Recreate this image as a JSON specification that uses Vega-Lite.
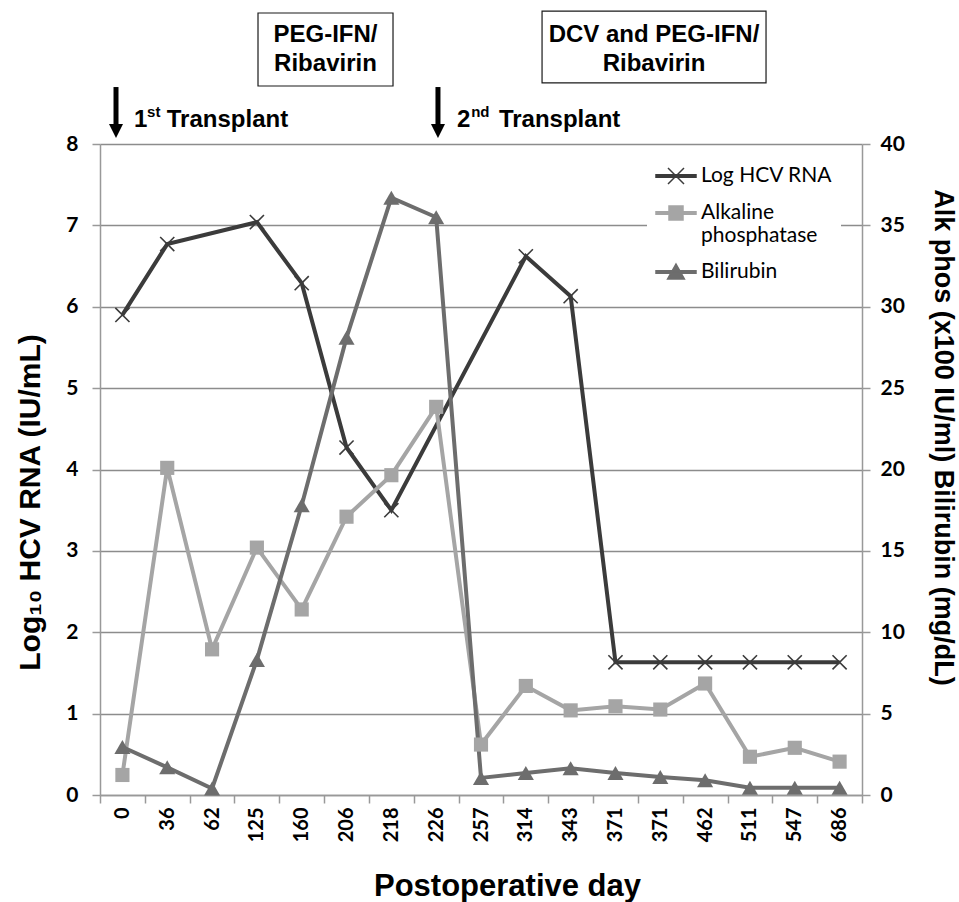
{
  "$schema": "https://vega.github.io/schema/vega-lite/v6.json",
  "width": 762,
  "height": 651,
  "autosize": {"type": "none"},
  "padding": {"left": 100, "top": 144, "right": 97, "bottom": 107},
  "background": "white",
  "config": {"view": {"stroke": null}, "font": "Liberation Sans"},
  "datasets": {
    "obs": [
      {"day": "0", "series": "Log HCV RNA", "value": 5.90},
      {"day": "36", "series": "Log HCV RNA", "value": 6.77},
      {"day": "125", "series": "Log HCV RNA", "value": 7.04},
      {"day": "160", "series": "Log HCV RNA", "value": 6.29},
      {"day": "206", "series": "Log HCV RNA", "value": 4.27},
      {"day": "218", "series": "Log HCV RNA", "value": 3.50},
      {"day": "314", "series": "Log HCV RNA", "value": 6.62},
      {"day": "343", "series": "Log HCV RNA", "value": 6.13},
      {"day": "371", "series": "Log HCV RNA", "value": 1.63},
      {"day": "371 (2)", "series": "Log HCV RNA", "value": 1.63},
      {"day": "462", "series": "Log HCV RNA", "value": 1.63},
      {"day": "511", "series": "Log HCV RNA", "value": 1.63},
      {"day": "547", "series": "Log HCV RNA", "value": 1.63},
      {"day": "686", "series": "Log HCV RNA", "value": 1.63},
      {"day": "0", "series": "Alkaline phosphatase", "value": 1.23},
      {"day": "36", "series": "Alkaline phosphatase", "value": 20.1},
      {"day": "62", "series": "Alkaline phosphatase", "value": 8.95},
      {"day": "125", "series": "Alkaline phosphatase", "value": 15.2},
      {"day": "160", "series": "Alkaline phosphatase", "value": 11.4},
      {"day": "206", "series": "Alkaline phosphatase", "value": 17.1},
      {"day": "218", "series": "Alkaline phosphatase", "value": 19.65},
      {"day": "226", "series": "Alkaline phosphatase", "value": 23.85},
      {"day": "257", "series": "Alkaline phosphatase", "value": 3.1},
      {"day": "314", "series": "Alkaline phosphatase", "value": 6.7},
      {"day": "343", "series": "Alkaline phosphatase", "value": 5.2},
      {"day": "371", "series": "Alkaline phosphatase", "value": 5.45},
      {"day": "371 (2)", "series": "Alkaline phosphatase", "value": 5.25},
      {"day": "462", "series": "Alkaline phosphatase", "value": 6.85},
      {"day": "511", "series": "Alkaline phosphatase", "value": 2.35},
      {"day": "547", "series": "Alkaline phosphatase", "value": 2.9},
      {"day": "686", "series": "Alkaline phosphatase", "value": 2.05},
      {"day": "0", "series": "Bilirubin", "value": 2.95},
      {"day": "36", "series": "Bilirubin", "value": 1.7},
      {"day": "62", "series": "Bilirubin", "value": 0.4},
      {"day": "125", "series": "Bilirubin", "value": 8.3},
      {"day": "160", "series": "Bilirubin", "value": 17.8},
      {"day": "206", "series": "Bilirubin", "value": 28.1},
      {"day": "218", "series": "Bilirubin", "value": 36.7},
      {"day": "226", "series": "Bilirubin", "value": 35.5},
      {"day": "257", "series": "Bilirubin", "value": 1.05},
      {"day": "314", "series": "Bilirubin", "value": 1.35},
      {"day": "343", "series": "Bilirubin", "value": 1.65},
      {"day": "371", "series": "Bilirubin", "value": 1.35},
      {"day": "371 (2)", "series": "Bilirubin", "value": 1.1},
      {"day": "462", "series": "Bilirubin", "value": 0.9},
      {"day": "511", "series": "Bilirubin", "value": 0.45},
      {"day": "547", "series": "Bilirubin", "value": 0.45},
      {"day": "686", "series": "Bilirubin", "value": 0.45}
    ],
    "boxes": [
      {"x1": 3.525, "x2": 6.537, "y1": 8.713, "y2": 9.61},
      {"x1": 9.862, "x2": 14.859, "y1": 8.75, "y2": 9.634}
    ],
    "boxlabels": [
      {"x": 5.03, "y": 9.253, "label": ["PEG-IFN/", "Ribavirin"]},
      {"x": 12.36, "y": 9.253, "label": ["DCV and PEG-IFN/", "Ribavirin"]}
    ],
    "arrows": [
      {"x": 0.357, "top": 8.70, "base": 8.22, "head": 8.16},
      {"x": 7.54, "top": 8.70, "base": 8.22, "head": 8.16}
    ],
    "events": [
      {"x": 0.76, "y": 8.21, "t": "1"},
      {"x": 1.49, "y": 8.21, "t": "Transplant"},
      {"x": 7.965, "y": 8.21, "t": "2"},
      {"x": 8.90, "y": 8.21, "t": "Transplant"}
    ],
    "sups": [
      {"x": 1.05, "y": 8.33, "t": "st"},
      {"x": 8.28, "y": 8.33, "t": "nd"}
    ]
  },
  "layer": [
    {
      "data": {"name": "obs"},
      "transform": [{"filter": "datum.series === 'Log HCV RNA'"}],
      "encoding": {
        "x": {
          "field": "day", "type": "ordinal", "bandPosition": 0.5,
          "scale": {"type": "band", "domain": ["0","36","62","125","160","206","218","226","257","314","343","371","371 (2)","462","511","547","686"], "paddingInner": 0, "paddingOuter": 0},
          "axis": {
            "title": "Postoperative day", "orient": "bottom",
            "labelExpr": "split(datum.label, ' ')[0]",
            "labelAngle": -90, "labelAlign": "right", "labelBaseline": "middle",
            "labelFont": "Lato", "labelFontWeight": "bold", "labelFontSize": 20, "labelColor": "#000000", "labelPadding": 4,
            "tickBand": "extent", "tickSize": 8, "tickColor": "#999999", "tickWidth": 1.5,
            "domainColor": "#999999", "domainWidth": 1.5, "grid": false,
            "titleFont": "Liberation Sans", "titleFontSize": 31, "titleFontWeight": "bold", "titleColor": "#000000",
            "titleX": 407, "titleY": 100, "titleAlign": "center", "titleBaseline": "alphabetic"
          }
        },
        "y": {
          "field": "value", "type": "quantitative",
          "scale": {"domain": [0, 8], "nice": false},
          "axis": {
            "title": "Log₁₀ HCV RNA (IU/mL)", "orient": "left", "values": [0,1,2,3,4,5,6,7,8],
            "grid": true, "gridColor": "#8c8c8c", "gridWidth": 1.5,
            "domainColor": "#999999", "domainWidth": 1.5, "tickColor": "#999999", "tickWidth": 1.5, "tickSize": 8,
            "labelFont": "Lato", "labelFontWeight": "bold", "labelFontSize": 21, "labelColor": "#000000", "labelPadding": 14,
            "titleFont": "Liberation Sans", "titleFontWeight": "bold", "titleFontSize": 30, "titleColor": "#000000",
            "titleAngle": -90, "titleX": -70, "titleY": 358, "titleAlign": "center", "titleBaseline": "middle"
          }
        }
      },
      "layer": [
        {
          "mark": {"type": "line", "strokeWidth": 4},
          "encoding": {
            "color": {
              "field": "series", "type": "nominal",
              "scale": {"domain": ["Log HCV RNA", "Alkaline phosphatase", "Bilirubin"], "range": ["#3b3b3b", "#a5a5a5", "#6d6d6d"]},
              "legend": {
                "title": null, "orient": "none", "legendX": 547, "legendY": 3, "padding": 8, "fillColor": "white",
                "labelFont": "Lato", "labelFontSize": 21, "labelColor": "#000000", "labelOffset": 4,
                "symbolSize": 1600, "symbolStrokeWidth": 1.5, "rowPadding": 5,
                "labelExpr": "datum.label == 'Alkaline phosphatase' ? ['Alkaline', 'phosphatase'] : datum.label",
                "encode": {
                  "symbols": {
                    "update": {
                      "shape": {"signal": "datum.value === 'Log HCV RNA' ? 'M-1,-0.06H1V0.06H-1Z M-0.4,-0.4L0.4,0.4M-0.4,0.4L0.4,-0.4' : datum.value === 'Alkaline phosphatase' ? 'M-1,-0.06H1V0.06H-1Z M-0.35,-0.35H0.35V0.35H-0.35Z' : 'M-1,-0.06H1V0.06H-1Z M0,-0.4L0.42,0.35H-0.42Z'"},
                      "fill": {"signal": "scale('color', datum.value)"},
                      "stroke": {"signal": "scale('color', datum.value)"},
                      "opacity": {"value": 1}
                    }
                  }
                }
              }
            }
          }
        },
        {
          "mark": {"type": "point", "shape": "M-1,-1L1,1M-1,1L1,-1", "filled": false, "size": 200, "strokeWidth": 1.6, "color": "#3b3b3b", "opacity": 1}
        }
      ]
    },
    {
      "data": {"name": "obs"},
      "transform": [{"filter": "datum.series !== 'Log HCV RNA'"}],
      "encoding": {
        "x": {
          "field": "day", "type": "ordinal", "bandPosition": 0.5,
          "scale": {"type": "band", "domain": ["0","36","62","125","160","206","218","226","257","314","343","371","371 (2)","462","511","547","686"], "paddingInner": 0, "paddingOuter": 0},
          "axis": null
        },
        "y": {
          "field": "value", "type": "quantitative",
          "scale": {"domain": [0, 40], "nice": false},
          "axis": {
            "title": "Alk phos (x100 IU/ml)  Bilirubin (mg/dL)", "orient": "right", "values": [0,5,10,15,20,25,30,35,40],
            "grid": false,
            "domainColor": "#999999", "domainWidth": 1.5, "tickColor": "#999999", "tickWidth": 1.5, "tickSize": 8,
            "labelFont": "Lato", "labelFontWeight": "bold", "labelFontSize": 21, "labelColor": "#000000", "labelPadding": 10,
            "titleFont": "Liberation Sans", "titleFontWeight": "bold", "titleFontSize": 27, "titleColor": "#000000",
            "titleAngle": 90, "titleX": 80, "titleY": 293, "titleAlign": "center", "titleBaseline": "middle"
          }
        }
      },
      "layer": [
        {
          "mark": {"type": "line", "strokeWidth": 4},
          "encoding": {
            "color": {
              "field": "series", "type": "nominal",
              "scale": {"domain": ["Log HCV RNA", "Alkaline phosphatase", "Bilirubin"], "range": ["#3b3b3b", "#a5a5a5", "#6d6d6d"]}
            }
          }
        },
        {
          "transform": [{"filter": "datum.series === 'Alkaline phosphatase'"}],
          "mark": {"type": "point", "shape": "square", "filled": true, "size": 200, "color": "#a5a5a5", "opacity": 1}
        },
        {
          "transform": [{"filter": "datum.series === 'Bilirubin'"}],
          "mark": {"type": "point", "shape": "triangle-up", "filled": true, "size": 260, "color": "#6d6d6d", "opacity": 1}
        }
      ]
    },
    {
      "layer": [
        {
          "data": {"name": "boxes"},
          "mark": {"type": "rect", "fill": "white", "stroke": "#1a1a1a", "strokeWidth": 1.2},
          "encoding": {
            "x": {"field": "x1", "type": "quantitative", "scale": {"domain": [0, 17], "nice": false, "zero": false}, "axis": null},
            "x2": {"field": "x2"},
            "y": {"field": "y1", "type": "quantitative", "scale": {"domain": [0, 8], "nice": false, "zero": false}, "axis": null},
            "y2": {"field": "y2"}
          }
        },
        {
          "data": {"name": "boxlabels"},
          "mark": {"type": "text", "align": "center", "baseline": "alphabetic", "fontSize": 24, "fontWeight": "bold", "font": "Liberation Sans", "lineHeight": 29, "color": "#000000"},
          "encoding": {
            "x": {"field": "x", "type": "quantitative", "scale": {"domain": [0, 17], "nice": false, "zero": false}, "axis": null},
            "y": {"field": "y", "type": "quantitative", "scale": {"domain": [0, 8], "nice": false, "zero": false}, "axis": null},
            "text": {"field": "label"}
          }
        },
        {
          "data": {"name": "arrows"},
          "mark": {"type": "rule", "strokeWidth": 5, "color": "#000000"},
          "encoding": {
            "x": {"field": "x", "type": "quantitative", "scale": {"domain": [0, 17], "nice": false, "zero": false}, "axis": null},
            "y": {"field": "top", "type": "quantitative", "scale": {"domain": [0, 8], "nice": false, "zero": false}, "axis": null},
            "y2": {"field": "base"}
          }
        },
        {
          "data": {"name": "arrows"},
          "mark": {"type": "point", "shape": "M-1,-1H1L0,1Z", "filled": true, "size": 196, "color": "#000000", "opacity": 1},
          "encoding": {
            "x": {"field": "x", "type": "quantitative", "scale": {"domain": [0, 17], "nice": false, "zero": false}, "axis": null},
            "y": {"field": "head", "type": "quantitative", "scale": {"domain": [0, 8], "nice": false, "zero": false}, "axis": null}
          }
        },
        {
          "data": {"name": "events"},
          "mark": {"type": "text", "align": "left", "baseline": "alphabetic", "fontSize": 24, "fontWeight": "bold", "font": "Liberation Sans", "color": "#000000"},
          "encoding": {
            "x": {"field": "x", "type": "quantitative", "scale": {"domain": [0, 17], "nice": false, "zero": false}, "axis": null},
            "y": {"field": "y", "type": "quantitative", "scale": {"domain": [0, 8], "nice": false, "zero": false}, "axis": null},
            "text": {"field": "t"}
          }
        },
        {
          "data": {"name": "sups"},
          "mark": {"type": "text", "align": "left", "baseline": "alphabetic", "fontSize": 15, "fontWeight": "bold", "font": "Liberation Sans", "color": "#000000"},
          "encoding": {
            "x": {"field": "x", "type": "quantitative", "scale": {"domain": [0, 17], "nice": false, "zero": false}, "axis": null},
            "y": {"field": "y", "type": "quantitative", "scale": {"domain": [0, 8], "nice": false, "zero": false}, "axis": null},
            "text": {"field": "t"}
          }
        }
      ]
    }
  ],
  "resolve": {"scale": {"x": "independent", "y": "independent"}}
}
